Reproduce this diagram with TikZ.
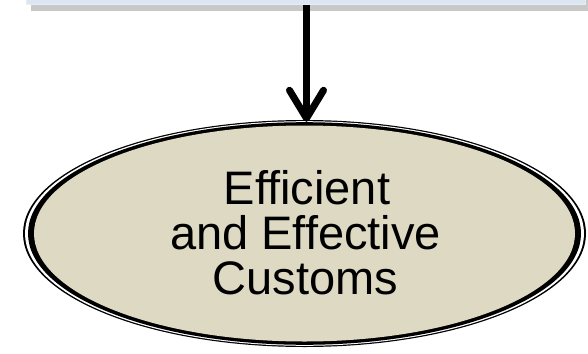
\documentclass[tikz,border=0pt]{standalone}
\usepackage{fontspec}
\setmainfont{Liberation Sans}
\usetikzlibrary{shapes.geometric,arrows.meta}
\definecolor{boxblue}{RGB}{220,230,242}
\definecolor{shadowgray}{RGB}{200,200,200}
\definecolor{tanfill}{RGB}{221,217,195}
\tikzset{
  topbox/.style={rectangle, fill=boxblue, draw=boxblue!70!white, line width=0.6pt, inner sep=0pt},
  goalnode/.style={ellipse, inner sep=0pt, align=center, font=\fontsize{47}{45}\selectfont},
  flowarrow/.style={line width=7pt, -{Straight Barb[length=28pt, width=34pt, line cap=round, line join=round]}}
}
\begin{document}
\begin{tikzpicture}[x=1pt,y=-1pt]
\useasboundingbox (0,0) rectangle (588,353);
\clip (0,0) rectangle (588,353);
% shadow of top box
\fill[shadowgray] (31,-30) rectangle (595,11);
% top box
\node[topbox, minimum width=559pt, minimum height=50pt, anchor=south west] (box) at (26,5) {};
% ellipse border rings
\fill[black] (304.5,233.5) ellipse [x radius=281.5pt, y radius=113.5pt];
\fill[white] (304.5,233.5) ellipse [x radius=279.5pt, y radius=112.3pt];
\fill[black] (304.5,233.5) ellipse [x radius=276.5pt, y radius=111.3pt];
\fill[tanfill] (304.5,233.5) ellipse [x radius=270.5pt, y radius=108pt];
% goal node
\node[goalnode, minimum width=563pt, minimum height=227pt] (goal) at (305.5,233) {\hspace*{3pt}Efficient\\and Effective\\Customs};
% arrow
\coordinate (tip) at ([xshift=1pt,yshift=-2.5pt]goal.north);
\draw[flowarrow] (box.south -| tip) -- (tip);
\end{tikzpicture}
\end{document}
